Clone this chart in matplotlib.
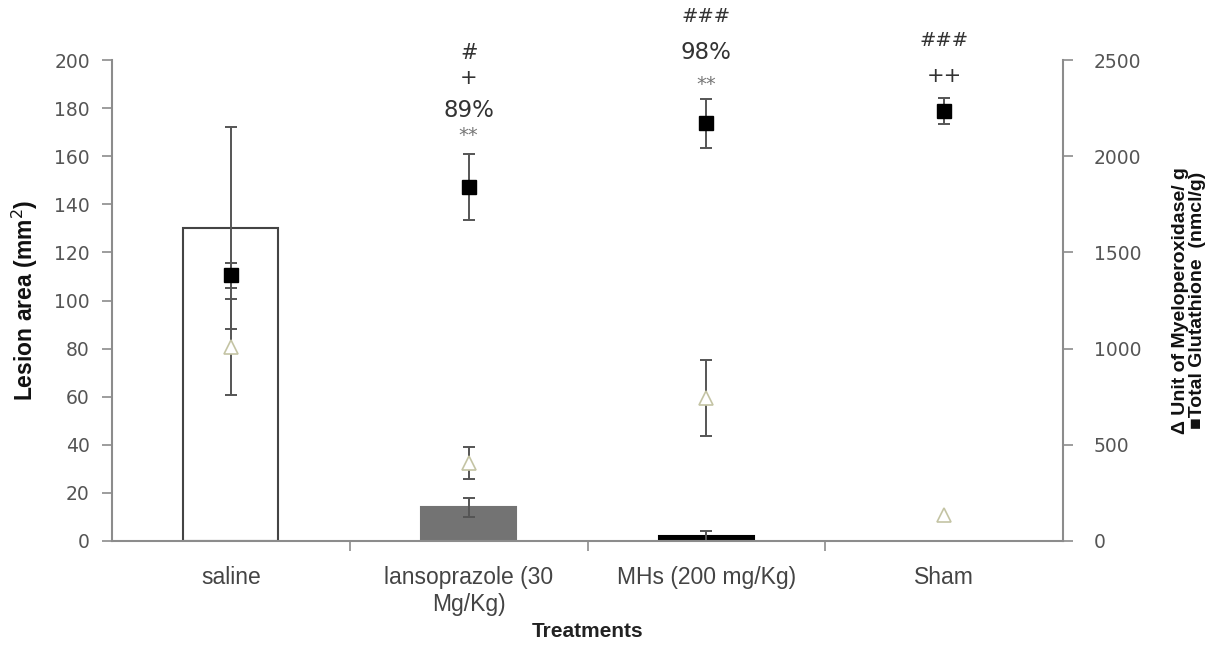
import numpy as np
import matplotlib
matplotlib.use("Agg")
from matplotlib import pyplot as plt

# treatment groups
groups = ["saline", "lansoprazole (30\nMg/Kg)", "MHs (200 mg/Kg)", "Sham"]

# lesion area (mm2), left axis
lesion = [130, 14, 2, 0]
lesion_err = [42, 4, 2, 0]

# myeloperoxidase (triangles) and total glutathione (squares), right axis
mpo = [1010, 405, 745, 135]
mpo_err = [250, 85, 198, 0]
gsh = [1380, 1840, 2170, 2235]
gsh_err = [65, 172, 126, 67]

# significance marks above each group: (text, height on left axis, size, colour)
marks = [
    [],
    [("#", 203, 15, "#333333"), ("+", 192.5, 15, "#333333"),
     ("89%", 179, 16.5, "#333333"), ("**", 168.5, 14, "#777777")],
    [("###", 218, 14, "#333333"), ("98%", 203, 16.5, "#333333"),
     ("**", 190, 14, "#777777")],
    [("###", 208, 14, "#333333"), ("++", 193.5, 15, "#333333")],
]

sans = ["Liberation Sans", "DejaVu Sans"]
grey = "#8c8c8c"

fig = plt.figure(figsize=(12.24, 6.45), dpi=100)
ax = fig.add_axes([112 / 1224, 1 - 541 / 645, (1063 - 112) / 1224, (541 - 60) / 645])
ax2 = ax.twinx()

x = np.arange(len(groups))
ax.bar(x, lesion, width=0.4, color=["white", "#737373", "black", "white"],
       edgecolor=["#444444", "#737373", "black", "white"], linewidth=1.5,
       zorder=1)
ax.errorbar(x[:3], lesion[:3], yerr=lesion_err[:3], fmt="none", ecolor="#555555",
            elinewidth=1.4, capsize=4, capthick=1.4, zorder=2)

ax2.errorbar(x[:3], mpo[:3], yerr=mpo_err[:3], fmt="none", ecolor="#555555",
             elinewidth=1.4, capsize=4, capthick=1.4, zorder=2)
ax2.plot(x, mpo, ls="none", marker="^", ms=9.5, mfc="white", mec="#c4c4a4",
         mew=1.2, zorder=3)
ax2.errorbar(x, gsh, yerr=gsh_err, fmt="s", color="black", ms=10.5,
             ecolor="#555555", elinewidth=1.4, capsize=4, capthick=1.4, zorder=4)

ax.set_xlim(-0.5, 3.5)
ax.set_ylim(0, 200)
ax2.set_ylim(0, 2500)
ax.set_yticks(np.arange(0, 201, 20))
ax2.set_yticks(np.arange(0, 2501, 500))

for a in (ax, ax2):
    a.spines["top"].set_visible(False)
    for s in ("left", "right", "bottom"):
        a.spines[s].set_color(grey)
        a.spines[s].set_linewidth(1.5)
    a.tick_params(axis="y", colors=grey, length=7, width=1.2, labelsize=13.5,
                  labelcolor="#555555")
ax.tick_params(axis="y", pad=9)
ax2.tick_params(axis="y", pad=15)
ax.spines["right"].set_visible(False)
ax2.spines["left"].set_visible(False)
ax2.spines["bottom"].set_visible(False)

ax.set_xticks(x)
ax.set_xticklabels(groups, family=sans, fontsize=16.5, color="#444444",
                   linespacing=1.25)
ax.set_xticks([0.5, 1.5, 2.5], minor=True)
ax.tick_params(axis="x", which="major", length=0, pad=18)
ax.tick_params(axis="x", which="minor", length=7, width=1.2, color=grey)

ax.set_ylabel("Lesion area (mm$^2$)", family=sans, fontweight="bold",
              fontsize=16.5, color="#111111", labelpad=10)
ax2.set_ylabel("\u0394 Unit of Myeloperoxidase/ g\n\u25a0Total Glutathione  (nmcl/g)",
               family=sans, fontweight="bold", fontsize=14, color="#111111",
               labelpad=22, linespacing=1.0)
ax.set_xlabel("Treatments", family=sans, fontweight="bold", fontsize=15,
              color="#222222", labelpad=4)

for i, group_marks in enumerate(marks):
    for txt, yy, size, col in group_marks:
        ax.text(x[i], yy, txt, ha="center", va="center", fontsize=size,
                color=col, clip_on=False, zorder=5)

fig.savefig("out.png", dpi=100, facecolor="white")
